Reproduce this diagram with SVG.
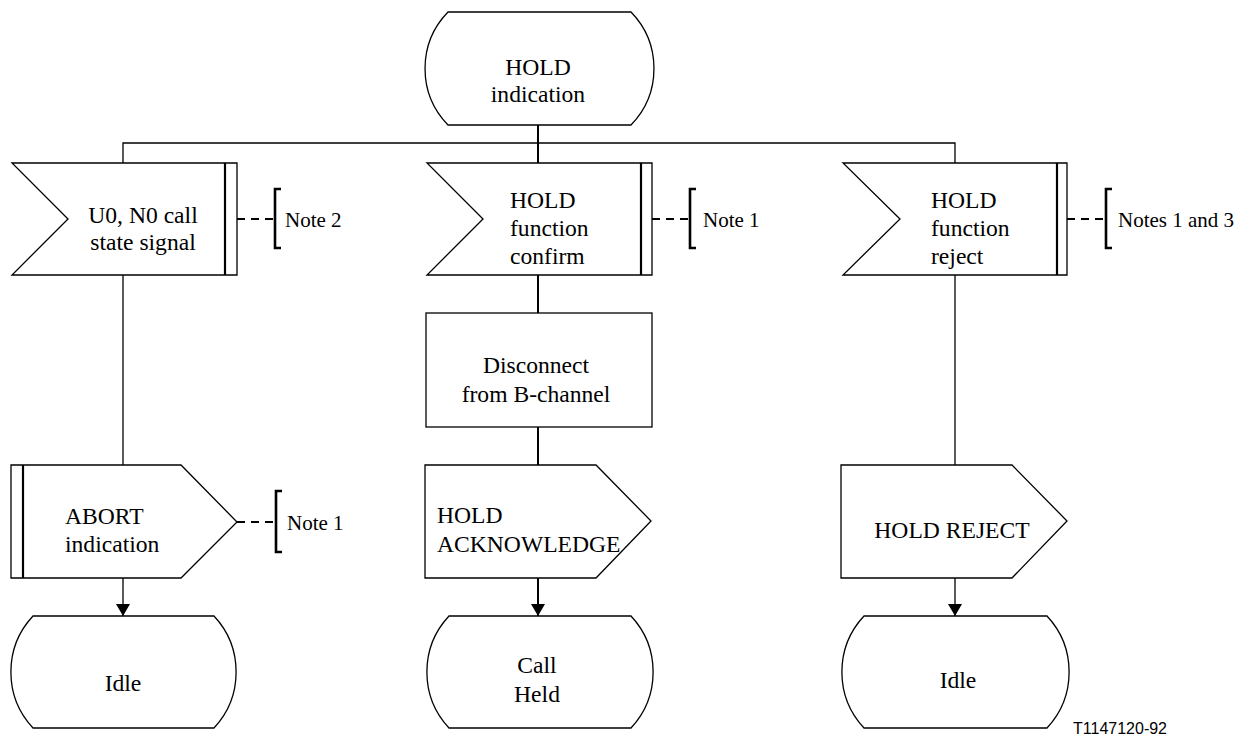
<svg xmlns="http://www.w3.org/2000/svg" width="1250" height="736" viewBox="0 0 1250 736">
  <defs>
    <style>
      .shape { fill: #ffffff; stroke: #000000; stroke-width: 1.3; }
      .bar { stroke: #000000; stroke-width: 2.2; fill: none; }
      .line { stroke: #000000; stroke-width: 1.3; fill: none; }
      .line2 { stroke: #000000; stroke-width: 2; fill: none; }
      .dash { stroke: #000000; stroke-width: 2; stroke-dasharray: 8 6; fill: none; }
      .bracket { stroke: #000000; stroke-width: 2.6; fill: none; }
      .t { font-family: "Liberation Serif", "Times New Roman", serif; font-size: 23.6px; fill: #000000; }
      .c { text-anchor: middle; }
      .note { font-family: "Liberation Serif", "Times New Roman", serif; font-size: 21px; fill: #000000; }
      .ref { font-family: "Liberation Sans", Arial, sans-serif; font-size: 16px; fill: #000000; }
    </style>
    <marker id="arrow" viewBox="0 0 12 14" refX="12" refY="7" markerWidth="12" markerHeight="14" markerUnits="userSpaceOnUse" orient="auto">
      <path d="M0,0 L12,7 L0,14 Z" fill="#000000"/>
    </marker>
  </defs>

  <rect width="1250" height="736" fill="#ffffff"/>

  <!-- connectors -->
  <g id="connectors">
    <line class="line2" x1="538" y1="125" x2="538" y2="143"/>
    <polyline class="line" points="123,163 123,143 955,143 955,163"/>
    <line class="line2" x1="538" y1="143" x2="538" y2="163"/>
    <line class="line" x1="123" y1="275" x2="123" y2="465"/>
    <line class="line2" x1="538" y1="275" x2="538" y2="313"/>
    <line class="line2" x1="538" y1="427" x2="538" y2="465"/>
    <line class="line" x1="955" y1="275" x2="955" y2="465"/>
    <line class="line" x1="123" y1="578" x2="123" y2="616" marker-end="url(#arrow)"/>
    <line class="line2" x1="538" y1="578" x2="538" y2="616" marker-end="url(#arrow)"/>
    <line class="line" x1="955" y1="578" x2="955" y2="616" marker-end="url(#arrow)"/>
  </g>

  <!-- start state -->
  <g id="state-hold-indication">
    <path class="shape" d="M448,12 L631,12 A81,81 0 0 1 631,125 L448,125 A81,81 0 0 1 448,12 Z"/>
    <text class="t c" x="538" y="75">HOLD</text>
    <text class="t c" x="538" y="102">indication</text>
  </g>

  <!-- input signals -->
  <g id="in-u0-n0">
    <polygon class="shape" points="12,163 237,163 237,275 12,275 68,219"/>
    <line class="bar" x1="225" y1="163" x2="225" y2="275"/>
    <text class="t c" x="143" y="223">U0, N0 call</text>
    <text class="t c" x="143" y="250">state signal</text>
  </g>
  <g id="note-in-u0-n0">
    <line class="dash" x1="237" y1="219" x2="275" y2="219"/>
    <path class="bracket" d="M281,189 L275,189 L275,248 L281,248"/>
    <text class="note" x="285" y="227">Note 2</text>
  </g>

  <g id="in-hold-confirm">
    <polygon class="shape" points="427,163 652,163 652,275 427,275 483,219"/>
    <line class="bar" x1="641" y1="163" x2="641" y2="275"/>
    <text class="t" x="510" y="208">HOLD</text>
    <text class="t" x="510" y="236">function</text>
    <text class="t" x="510" y="264">confirm</text>
  </g>
  <g id="note-in-hold-confirm">
    <line class="dash" x1="652" y1="219" x2="690" y2="219"/>
    <path class="bracket" d="M696,189 L690,189 L690,248 L696,248"/>
    <text class="note" x="703" y="227">Note 1</text>
  </g>

  <g id="in-hold-reject">
    <polygon class="shape" points="843,163 1067,163 1067,275 843,275 900,219"/>
    <line class="bar" x1="1057" y1="163" x2="1057" y2="275"/>
    <text class="t" x="931" y="208">HOLD</text>
    <text class="t" x="931" y="236">function</text>
    <text class="t" x="931" y="264">reject</text>
  </g>
  <g id="note-in-hold-reject">
    <line class="dash" x1="1067" y1="219" x2="1106" y2="219"/>
    <path class="bracket" d="M1112,189 L1106,189 L1106,248 L1112,248"/>
    <text class="note" x="1118" y="227">Notes 1 and 3</text>
  </g>

  <!-- task -->
  <g id="task-disconnect">
    <rect class="shape" x="426" y="313" width="226" height="114"/>
    <text class="t c" x="536" y="373">Disconnect</text>
    <text class="t c" x="536" y="402">from B-channel</text>
  </g>

  <!-- output signals -->
  <g id="out-abort">
    <polygon class="shape" points="11,465 181,465 237,522 181,578 11,578"/>
    <line class="bar" x1="23" y1="465" x2="23" y2="578"/>
    <text class="t" x="65" y="524">ABORT</text>
    <text class="t" x="65" y="552">indication</text>
  </g>
  <g id="note-out-abort">
    <line class="dash" x1="237" y1="522" x2="276" y2="522"/>
    <path class="bracket" d="M282,491 L276,491 L276,552 L282,552"/>
    <text class="note" x="287" y="530">Note 1</text>
  </g>

  <g id="out-hold-ack">
    <polygon class="shape" points="425,465 596,465 651,521 596,578 425,578"/>
    <text class="t" x="437" y="523">HOLD</text>
    <text class="t" x="437" y="552">ACKNOWLEDGE</text>
  </g>

  <g id="out-hold-reject">
    <polygon class="shape" points="841,465 1012,465 1067,521 1012,578 841,578"/>
    <text class="t c" x="952" y="538">HOLD REJECT</text>
  </g>

  <!-- end states -->
  <g id="state-idle-1">
    <path class="shape" d="M33,616 L214,616 A82,82 0 0 1 214,728 L33,728 A82,82 0 0 1 33,616 Z"/>
    <text class="t c" x="123" y="691">Idle</text>
  </g>
  <g id="state-call-held">
    <path class="shape" d="M449,616 L631,616 A82,82 0 0 1 631,728 L449,728 A82,82 0 0 1 449,616 Z"/>
    <text class="t c" x="537" y="673">Call</text>
    <text class="t c" x="537" y="702">Held</text>
  </g>
  <g id="state-idle-2">
    <path class="shape" d="M864,616 L1047,616 A82,82 0 0 1 1047,728 L864,728 A82,82 0 0 1 864,616 Z"/>
    <text class="t c" x="958" y="688">Idle</text>
  </g>

  <text class="ref" x="1073" y="734">T1147120-92</text>
</svg>
